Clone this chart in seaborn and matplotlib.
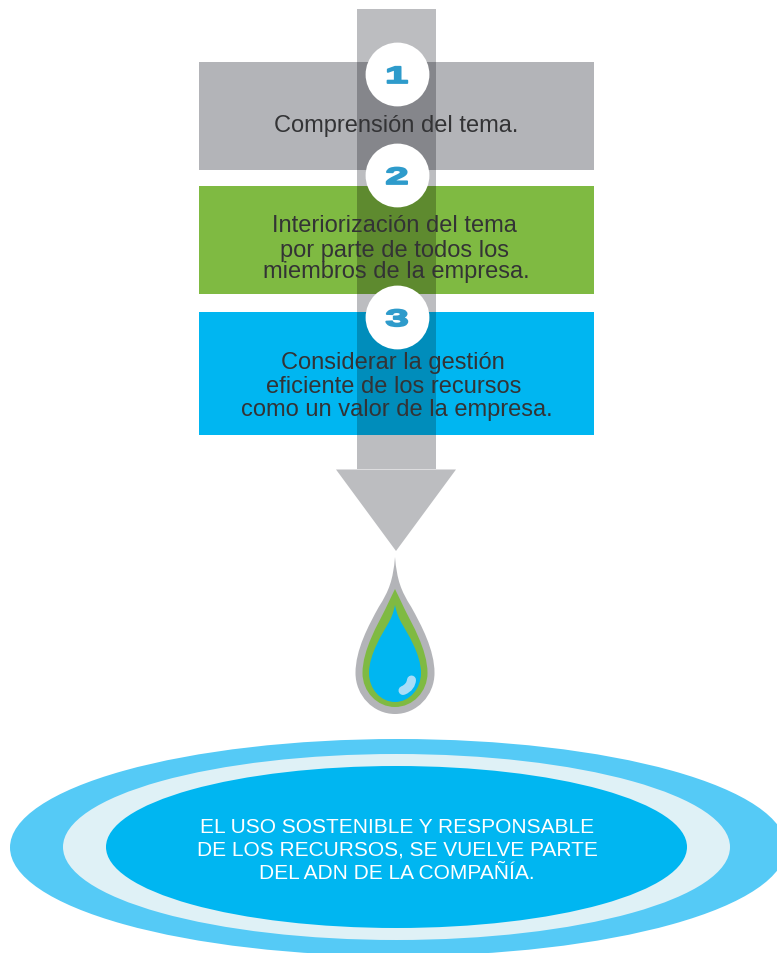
import matplotlib
matplotlib.use("Agg")
import matplotlib.pyplot as plt
from matplotlib.patches import Rectangle, Polygon, Ellipse, PathPatch
from matplotlib.path import Path
from matplotlib.patheffects import AbstractPathEffect
from matplotlib.transforms import Affine2D
import pandas as pd
import seaborn as sns

step_numbers = ["1", "2", "3"]
step_lines = [
    ["Comprensión del tema."],
    ["Interiorización del tema", "por parte de todos los", "miembros de la empresa."],
    ["Considerar la gestión", "eficiente de los recursos", "como un valor de la empresa."],
]
result_lines = [
    "EL USO SOSTENIBLE Y RESPONSABLE",
    "DE LOS RECURSOS, SE VUELVE PARTE",
    "DEL ADN DE LA COMPAÑÍA.",
]


class Widen(AbstractPathEffect):
    """Draw a glyph wider about its own centre, with a thin outline."""

    def __init__(self, factor, stroke):
        super().__init__()
        self.factor, self.stroke = factor, stroke

    def draw_path(self, renderer, gc, tpath, affine, rgbFace=None):
        ext = tpath.get_extents()
        cx = (ext.x0 + ext.x1) / 2
        t = Affine2D().translate(-cx, 0).scale(self.factor, 1).translate(cx, 0) + affine
        gc0 = renderer.new_gc()
        gc0.copy_properties(gc)
        gc0.set_linewidth(self.stroke)
        gc0.set_foreground(rgbFace)
        renderer.draw_path(gc0, tpath, t, rgbFace)
        gc0.restore()


sns.set_theme(style="white")
plt.rcParams["font.family"] = ["Liberation Sans", "DejaVu Sans"]

fig = plt.figure(figsize=(7.77, 9.54), dpi=100)
ax = fig.add_axes([0, 0, 1, 1])

# numbered discs
discs = pd.DataFrame({"x": [397, 397, 397], "y": [74, 175, 317]})
sns.scatterplot(data=discs, x="x", y="y", s=2110, color="white", linewidth=0, zorder=4, ax=ax, legend=False)
ax.set_xlim(0, 777)
ax.set_ylim(953, -1)
ax.axis("off")

# arrow shaft and head
ax.add_patch(Rectangle((357, 9), 79, 460, fc="#BCBDC0", ec="none", zorder=1))
ax.add_patch(Polygon([(336, 469.5), (456, 469.5), (396, 551)], fc="#BCBDC0", ec="none", zorder=1))

# step boxes with the darker overlap of the shaft
boxes = [(62, 108, "#B3B4B8", "#85868B"), (186, 108, "#7FBA42", "#5E8A2F"), (312, 123, "#00B6F1", "#008DBB")]
for top, h, col, dark in boxes:
    ax.add_patch(Rectangle((199, top), 395, h, fc=col, ec="none", zorder=2))
    ax.add_patch(Rectangle((357, top), 79, h, fc=dark, ec="none", zorder=3))

for n, y in zip(step_numbers, discs["y"]):
    ax.text(397, y + 2.5, n, color="#2E9BCB", fontsize=17, fontweight="bold",
            ha="center", va="center", zorder=5, path_effects=[Widen(1.8, 1.3)])

# step text
text_y = [[125], [225, 250, 271], [362, 386, 409]]
text_x = [[396.5], [394, 394, 396.5], [393, 394, 397]]
for lines, ys, xs in zip(step_lines, text_y, text_x):
    for line, y, x in zip(lines, ys, xs):
        ax.text(x, y, line, color="#333335", fontsize=17, ha="center", va="center", zorder=6)


# drop
def drop(cx, tip, w, mid, bottom, right):
    h = mid - tip
    pts = [(cx, tip)] + [(cx + dx * w, tip + u * h) for dx, u in right]
    pts += [(cx + w, mid + (bottom - mid) * .55), (cx + w * .55, bottom), (cx, bottom)]
    pts += [(cx - w * .55, bottom), (cx - w, mid + (bottom - mid) * .55), (cx - w, mid)]
    pts += [(cx - dx * w, tip + u * h) for dx, u in reversed(right[:-1])] + [(cx, tip)]
    return Path(pts, [Path.MOVETO] + [Path.CURVE4] * (len(pts) - 1))


outer_side = [(.05, .2), (.15, .29), (.41, .43), (.67, .59), (1, .80), (1, 1)]
green_side = [(.1, .08), (.2, .16), (.31, .25), (.5, .40), (1, .72), (1, 1)]
blue_side = [(.06, .12), (.15, .2), (.29, .29), (.45, .40), (1, .72), (1, 1)]
for args, col in [((395, 557, 39.5, 673, 714, outer_side), "#B3B4B8"),
                  ((395, 589, 32.5, 673, 707, green_side), "#7FBA42"),
                  ((395, 605, 26, 673, 702, blue_side), "#00B6F1")]:
    ax.add_patch(PathPatch(drop(*args), fc=col, ec="none", zorder=2))
glint = Path([(403, 690.5), (409, 688), (411, 684), (411.5, 680)], [Path.MOVETO, Path.CURVE4, Path.CURVE4, Path.CURVE4])
ax.add_patch(PathPatch(glint, fc="none", ec="#A8DDF8", lw=6.5, capstyle="round", zorder=3))

# result ellipses
for x0, x1, y0, y1, col in [(10, 786, 739, 956, "#55CAF6"), (63, 730, 754, 940, "#DFF1F6"), (106, 687, 766, 928, "#00B6F1")]:
    ax.add_patch(Ellipse(((x0 + x1) / 2, (y0 + y1) / 2), x1 - x0, y1 - y0, fc=col, ec="none", zorder=2))
for line, y in zip(result_lines, [826, 848, 872]):
    ax.text(397, y + 1, line, color="white", fontsize=15, ha="center", va="center", zorder=6)

fig.savefig("out.png", dpi=100)
